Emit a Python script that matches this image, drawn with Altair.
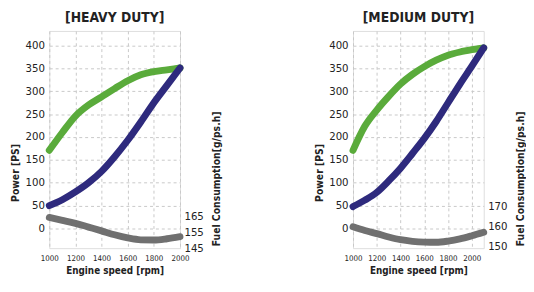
import altair as alt
import pandas as pd

# ---- data ----
rpm_heavy = [1000, 1100, 1200, 1300, 1400, 1500, 1600, 1700, 1800, 1900, 2000]
torque_heavy = [171, 210, 246, 270, 288, 306, 323, 336, 343, 347, 351]
power_heavy = [50, 63, 80, 100, 125, 157, 193, 233, 275, 313, 351]
fuel_heavy = [164.5, 162.7, 160.8, 158.4, 156.0, 153.5, 151.5, 150.3, 150.2, 151.0, 152.3]

rpm_medium = [1000, 1100, 1200, 1300, 1400, 1500, 1600, 1700, 1800, 1900, 2000, 2100]
torque_medium = [171, 224, 259, 289, 316, 337, 354, 368, 379, 386, 391, 395]
power_medium = [48, 62, 79, 104, 132, 164, 197, 234, 275, 316, 355, 395]
fuel_medium = [159.9, 158.0, 156.4, 154.7, 153.3, 152.5, 152.1, 152.0, 152.6, 153.7, 155.3, 157.1]

titles = ["[HEAVY DUTY]", "[MEDIUM DUTY]"]
x_domains = [[1000, 2000], [1000, 2100]]
x_ticks = [[1000, 1200, 1400, 1600, 1800, 2000], [1000, 1200, 1400, 1600, 1800, 2000]]
power_domain = [-43, 432]
fuel_domains = [[145, 283], [149, 259.5]]
fuel_ticks = [[145, 155, 165], [150, 160, 170]]
power_ticks = [0, 50, 100, 150, 200, 250, 300, 350, 400]

FONT = "DejaVu Sans Condensed, Lato, sans-serif"
GREEN = "#5aab3b"
BLUE = "#2e2a7d"
GRAY = "#707070"
W, H = 133, 221


def panel(i, rpm, torque, power, fuel):
    df = pd.DataFrame({"rpm": rpm, "torque": torque, "power": power, "fuel": fuel})
    x = alt.X("rpm:Q", scale=alt.Scale(domain=x_domains[i], nice=False, zero=False),
              axis=alt.Axis(values=x_ticks[i], format="d", labelOverlap=False, labelFlush=False,
                            title="Engine speed [rpm]", ticks=False, domain=False,
                            grid=True, gridDash=[3, 3], gridColor="#c8c8c8",
                            labelFontSize=8, labelPadding=7, labelColor="#222",
                            titleFontSize=10, titleFontWeight="bold", titlePadding=3,
                            titleColor="#222", labelFont=FONT, titleFont=FONT))
    yscale = alt.Scale(domain=power_domain, nice=False, zero=False)
    yaxis = alt.Axis(values=power_ticks, title="Power [PS]", ticks=False, domain=False,
                     grid=True, gridDash=[3, 3], gridColor="#c8c8c8",
                     labelFontSize=11.5, labelPadding=5, labelColor="#222",
                     titleFontSize=10.5, titleFontWeight="bold", titleColor="#222",
                     titleAngle=270, titleX=-34, titleY=144, titleAlign="center",
                     titleBaseline="middle", labelFont=FONT, titleFont=FONT)
    base = alt.Chart(df)
    gb = base.transform_fold(["torque", "power"], as_=["series", "val"]).mark_line(
        strokeWidth=7, strokeCap="round", interpolate="monotone").encode(
        x=x, y=alt.Y("val:Q", scale=yscale, axis=yaxis),
        color=alt.Color("series:N", scale=alt.Scale(domain=["torque", "power"], range=[GREEN, BLUE]),
                        legend=None))
    f = base.mark_line(color=GRAY, strokeWidth=7, strokeCap="round", interpolate="monotone").encode(
        x=x, y=alt.Y("fuel:Q", scale=alt.Scale(domain=fuel_domains[i], nice=False, zero=False),
                     axis=alt.Axis(orient="right", values=fuel_ticks[i], title="Fuel Consumption[g/ps.h]",
                                   ticks=False, domain=False, grid=False,
                                   labelFontSize=11.5, labelPadding=4, labelColor="#222",
                                   titleFontSize=10.5, titleFontWeight="bold", titleColor="#222",
                                   titleAngle=270, titleX=37, titleY=150, titleAlign="center",
                                   titleBaseline="middle", labelFont=FONT, titleFont=FONT)))
    return alt.layer(gb, f).resolve_scale(y="independent").properties(
        width=W, height=H,
        title=alt.TitleParams(titles[i], fontSize=14, fontWeight="bold", font=FONT, color="#222", offset=6))


chart = alt.hconcat(
    panel(0, rpm_heavy, torque_heavy, power_heavy, fuel_heavy),
    panel(1, rpm_medium, torque_medium, power_medium, fuel_medium),
    spacing=93,
).configure_view(stroke="#8a8a8a", strokeWidth=1.5).configure(padding={"left": 2, "top": 0, "right": 0, "bottom": 0})

chart.save("out.html", embed_options={"renderer": "svg", "actions": False})
